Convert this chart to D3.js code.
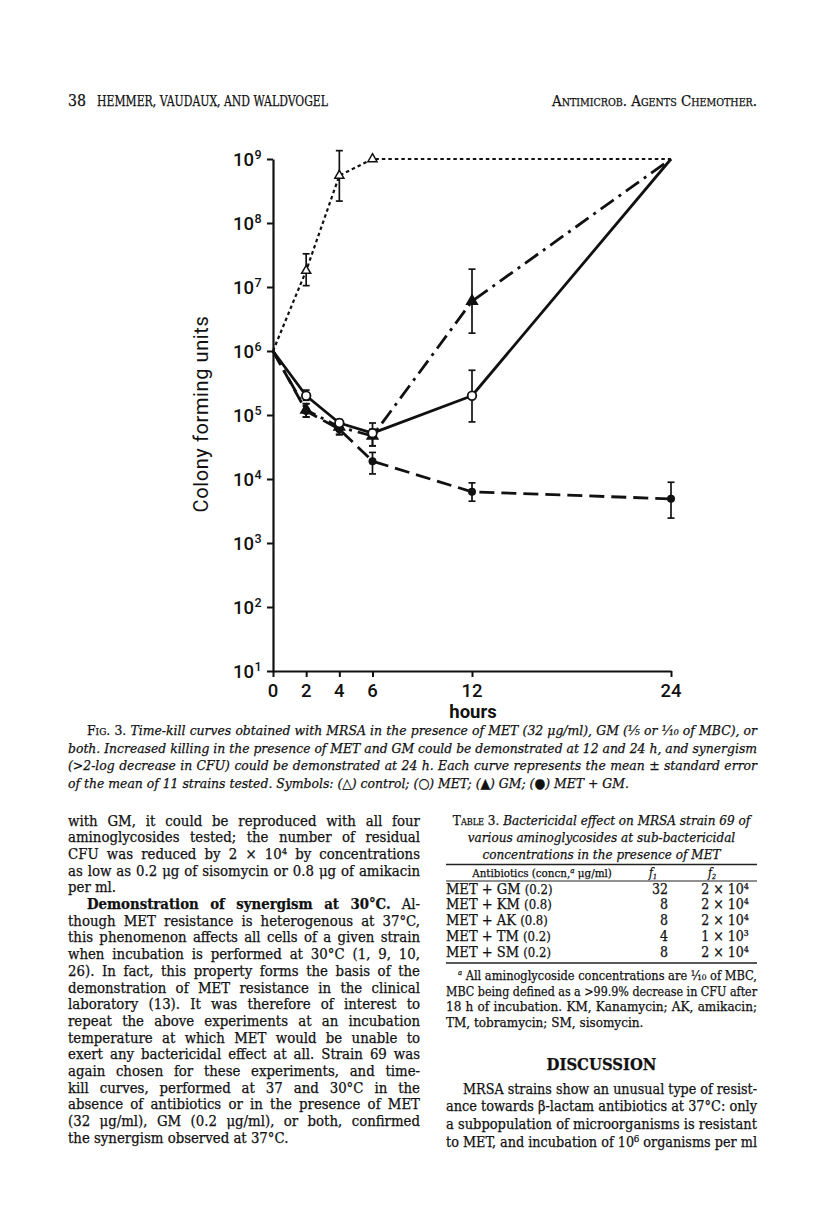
<!DOCTYPE html>
<html>
<head>
<meta charset="utf-8">
<script src="https://cdn.jsdelivr.net/npm/d3@7"></script>
<style>
  html, body { margin: 0; padding: 0; background: #fff; }
  svg { display: block; }
  .serif { font-family: "DejaVu Serif Condensed", "DejaVu Serif", serif; fill: #111; stroke: #111; stroke-width: 0.25; }
  .sans { font-family: Roboto, "DejaVu Sans", sans-serif; fill: #111; }
</style>
</head>
<body>
<script>
// ---- chart data ----
const hours = [0, 2, 4, 6, 12, 24];
const xTicks = [0, 2, 4, 6, 12, 24];
const yTicks = [1, 2, 3, 4, 5, 6, 7, 8, 9];   // exponents of 10

const control = [1e6, 1.8e7, 5.5e8, 1e9, 1e9, 1e9];
const controlLo = [null, 1.05e7, 2.2e8, null, null, null];
const controlHi = [null, 3.3e7, 1.35e9, null, null, null];

const met = [1e6, 2e5, 7.5e4, 5.2e4, 2e5, 1e9];
const metLo = [null, 1.7e5, 6e4, 3.3e4, 7.8e4, null];
const metHi = [null, 2.45e5, 8.5e4, 7.5e4, 5e5, null];

const gm = [1e6, 1.2e5, 6.5e4, 4.7e4, 6e6, 1e9];
const gmLo = [null, 9.3e4, 5e4, 3.3e4, 1.9e6, null];
const gmHi = [null, 1.5e5, 8e4, 6e4, 1.9e7, null];

const metGm = [1e6, 1.15e5, 6e4, 1.9e4, 6.3e3, 4.9e3];
const metGmLo = [null, 9.3e4, 4.9e4, 1.2e4, 4.5e3, 2.45e3];
const metGmHi = [null, 1.5e5, 7e4, 2.6e4, 8.7e3, 8.9e3];

// ---- table data ----
const tableRows = ['MET + GM', 'MET + KM', 'MET + AK', 'MET + TM', 'MET + SM'];
const tableConc = ['(0.2)', '(0.8)', '(0.8)', '(0.2)', '(0.2)'];
const tableF1 = ['32', '8', '8', '4', '8'];
const tableF2 = ['2 × 10⁴', '2 × 10⁴', '2 × 10⁴', '1 × 10³', '2 × 10⁴'];

const W = 816, H = 1221;
const svg = d3.create('svg').attr('width', W).attr('height', H);
svg.append('rect').attr('width', W).attr('height', H).attr('fill', '#fff');
document.body.appendChild(svg.node());

// ---- scales / axes ----
const x = d3.scaleLinear().domain([0, 24]).range([273, 671]);
const y = d3.scaleLog().domain([10, 1e9]).range([671, 159]);

const yAxis = svg.append('g')
    .attr('transform', 'translate(273,0)')
    .call(d3.axisLeft(y).tickValues(yTicks.map(e => Math.pow(10, e))).tickSize(6).tickSizeOuter(0).tickFormat(''));
const xAxis = svg.append('g')
    .attr('transform', 'translate(0,671)')
    .call(d3.axisBottom(x).tickValues(xTicks).tickSize(6).tickSizeOuter(0).tickFormat(''));
[yAxis, xAxis].forEach(g => {
    g.select('.domain').attr('stroke', '#111').attr('stroke-width', 2.2);
    g.selectAll('.tick line').attr('stroke', '#111').attr('stroke-width', 2);
});

const yLab = svg.append('g').attr('class', 'sans');
yTicks.forEach(e => {
    yLab.append('text')
        .attr('x', 254).attr('y', y(Math.pow(10, e)) + 6.5)
        .attr('text-anchor', 'end')
        .attr('font-size', 18.5).attr('font-weight', 500)
        .text('10');
    yLab.append('text')
        .attr('x', 254.5).attr('y', y(Math.pow(10, e)) - 0.5)
        .attr('font-size', 12.5).attr('font-weight', 500)
        .text(e);
});
svg.append('g').attr('class', 'sans')
    .selectAll('text').data(xTicks).join('text')
    .attr('x', d => x(d)).attr('y', 697)
    .attr('text-anchor', 'middle')
    .attr('font-size', 18.5).attr('font-weight', 500)
    .text(d => d);

svg.append('text').attr('class', 'sans')
    .attr('x', 473).attr('y', 718)
    .attr('text-anchor', 'middle')
    .attr('font-size', 18.5).attr('font-weight', 700)
    .text('hours');
svg.append('text').attr('class', 'sans')
    .attr('transform', 'translate(208,414) rotate(-90)')
    .attr('text-anchor', 'middle')
    .attr('font-size', 20).attr('font-weight', 400)
    .attr('letter-spacing', 0.6)
    .text('Colony forming units');

// ---- curves ----
const line = d3.line().x(d => x(d[0])).y(d => y(d[1]));
const series = [
    { v: metGm, lo: metGmLo, hi: metGmHi, dash: '15,7', w: 2.8, marker: 'dot', at: [1, 2, 3, 4, 5] },
    { v: gm, lo: gmLo, hi: gmHi, dash: '16,6,3,6', w: 2.8, marker: 'tri', at: [1, 2, 3, 4] },
    { v: met, lo: metLo, hi: metHi, dash: null, w: 2.8, marker: 'circle', at: [1, 2, 3, 4] },
    { v: control, lo: controlLo, hi: controlHi, dash: '3.5,3', w: 2.2, marker: 'otri', at: [1, 2, 3] }
];
const plot = svg.append('g');
series.forEach(s => {
    plot.append('path')
        .datum(hours.map((h, i) => [h, s.v[i]]))
        .attr('d', line)
        .attr('fill', 'none').attr('stroke', '#111')
        .attr('stroke-width', s.w)
        .attr('stroke-dasharray', s.dash)
        .attr('stroke-linejoin', 'round');
    hours.forEach((h, i) => {
        if (s.lo[i] == null) return;
        const g = plot.append('g').attr('stroke', '#111').attr('stroke-width', 1.7);
        g.append('line').attr('x1', x(h)).attr('x2', x(h)).attr('y1', y(s.lo[i])).attr('y2', y(s.hi[i]));
        g.append('line').attr('x1', x(h) - 3.5).attr('x2', x(h) + 3.5).attr('y1', y(s.lo[i])).attr('y2', y(s.lo[i]));
        g.append('line').attr('x1', x(h) - 3.5).attr('x2', x(h) + 3.5).attr('y1', y(s.hi[i])).attr('y2', y(s.hi[i]));
    });
    s.at.forEach(i => {
        const cx = x(hours[i]), cy = y(s.v[i]);
        if (s.marker === 'circle') {
            plot.append('circle').attr('cx', cx).attr('cy', cy).attr('r', 4.3)
                .attr('fill', '#fff').attr('stroke', '#111').attr('stroke-width', 1.8);
        } else if (s.marker === 'dot') {
            plot.append('circle').attr('cx', cx).attr('cy', cy).attr('r', 4)
                .attr('fill', '#111');
        } else {
            plot.append('path')
                .attr('transform', `translate(${cx},${cy})`)
                .attr('d', d3.symbol(d3.symbolTriangle, s.marker === 'tri' ? 50 : 36)())
                .attr('fill', s.marker === 'tri' ? '#111' : '#fff')
                .attr('stroke', '#111').attr('stroke-width', 1.5);
        }
    });
});

// ---- text helpers ----
// segs: array of [text, attrs]; justified to [x0, x1] when opts.justify
function textLine(g, x0, x1, yy, segs, size, opts = {}) {
    const t = g.append('text').attr('class', 'serif')
        .attr('x', x0).attr('y', yy).attr('font-size', size)
        .attr('xml:space', 'preserve');
    if (opts.anchor) t.attr('text-anchor', opts.anchor);
    if (opts.italic) t.attr('font-style', 'italic');
    segs.forEach(([str, a]) => {
        const sp = t.append('tspan').text(str);
        if (a) Object.entries(a).forEach(([k, v]) => sp.attr(k, v));
    });
    const w = t.node().getComputedTextLength();
    if (opts.justify) {
        const target = x1 - x0;
        const nsp = segs.map(s => s[0]).join('').split(' ').length - 1;
        if (w > target || nsp === 0) {
            t.attr('textLength', target).attr('lengthAdjust', 'spacingAndGlyphs');
        } else {
            t.style('word-spacing', ((target - w) / nsp) + 'px');
        }
    } else if (opts.fit && w > opts.fit) {
        t.attr('textLength', opts.fit).attr('lengthAdjust', 'spacingAndGlyphs');
    } else if (opts.fitExact) {
        t.attr('textLength', opts.fitExact).attr('lengthAdjust', 'spacingAndGlyphs');
    }
    return t;
}

const txt = svg.append('g');

// header
textLine(txt, 68, 0, 106, [['38']], 16, { fitExact: 18 });
textLine(txt, 97, 0, 106, [['HEMMER, VAUDAUX, AND WALDVOGEL']], 15.5, { fitExact: 231 });
textLine(txt, 757, 0, 106, [['Antimicrob. Agents Chemother.', { 'font-variant': 'small-caps' }]], 15.5, { anchor: 'end', fitExact: 205 });

// caption
const cap = [
    [[['Fig. 3. ', { 'font-style': 'normal', 'font-variant': 'small-caps' }], ['Time-kill curves obtained with MRSA in the presence of MET (32 μg/ml), GM (⅕ or ⅒ of MBC), or']], 87, true],
    [[['both. Increased killing in the presence of MET and GM could be demonstrated at 12 and 24 h, and synergism']], 68, true],
    [[['(>2-log decrease in CFU) could be demonstrated at 24 h. Each curve represents the mean ± standard error']], 68, true],
    [[['of the mean of 11 strains tested. Symbols: (△) control; (○) MET; (▲) GM; (●) MET + GM.']], 68, false]
];
cap.forEach(([segs, x0, j], i) => textLine(txt, x0, 757, 735 + i * 17.6, segs, 13.8, { italic: true, justify: j }));

// left column
const leftLines = [
    'with GM, it could be reproduced with all four',
    'aminoglycosides tested; the number of residual',
    'CFU was reduced by 2 × 10⁴ by concentrations',
    'as low as 0.2 μg of sisomycin or 0.8 μg of amikacin',
    'per ml.',
    null,
    'though MET resistance is heterogenous at 37°C,',
    'this phenomenon affects all cells of a given strain',
    'when incubation is performed at 30°C (1, 9, 10,',
    '26). In fact, this property forms the basis of the',
    'demonstration of MET resistance in the clinical',
    'laboratory (13). It was therefore of interest to',
    'repeat the above experiments at an incubation',
    'temperature at which MET would be unable to',
    'exert any bactericidal effect at all. Strain 69 was',
    'again chosen for these experiments, and time-',
    'kill curves, performed at 37 and 30°C in the',
    'absence of antibiotics or in the presence of MET',
    '(32 μg/ml), GM (0.2 μg/ml), or both, confirmed',
    'the synergism observed at 37°C.'
];
leftLines.forEach((l, i) => {
    const yy = 825.5 + i * 16.7;
    if (l === null) {
        textLine(txt, 87, 420, yy, [['Demonstration of synergism at 30°C.', { 'font-weight': 'bold' }], [' Al-']], 14.8, { justify: true });
    } else {
        textLine(txt, 68, 420, yy, [[l]], 14.8, { justify: !(i === 4 || i === 19) });
    }
});

// table 3
const R0 = 446, R1 = 757, RC = (R0 + R1) / 2;
textLine(txt, RC, 0, 825, [['Table 3. ', { 'font-variant': 'small-caps', 'font-style': 'normal' }], ['Bactericidal effect on MRSA strain 69 of']], 13.4, { anchor: 'middle', italic: true, fit: 302 });
textLine(txt, RC, 0, 842, [['various aminoglycosides at sub-bactericidal']], 13.4, { anchor: 'middle', italic: true });
textLine(txt, RC, 0, 859, [['concentrations in the presence of MET']], 13.4, { anchor: 'middle', italic: true });

const rules = [864.5, 881, 963];
txt.selectAll('line.rule').data(rules).join('line')
    .attr('x1', R0).attr('x2', R1).attr('y1', d => d).attr('y2', d => d)
    .attr('stroke', '#222').attr('stroke-width', (d, i) => i === 1 ? 1 : 1.6);
textLine(txt, 542, 0, 877, [['Antibiotics (concn,'], ['a', { 'font-size': 8, dy: -4, 'font-style': 'italic' }], [' μg/ml)', { dy: 4 }]], 11.5, { anchor: 'middle' });
textLine(txt, 653, 0, 877, [['f'], ['1', { 'font-size': 7, dy: 2 }]], 12, { anchor: 'middle', italic: true });
textLine(txt, 712, 0, 877, [['f'], ['2', { 'font-size': 7, dy: 2 }]], 12, { anchor: 'middle', italic: true });
tableRows.forEach((r, i) => {
    const yy = 893.5 + i * 15.8;
    textLine(txt, R0, 0, yy, [[r + ' ', { 'font-size': 14.5 }], [tableConc[i], { 'font-size': 13 }]], 14.5);
    textLine(txt, 668, 0, yy, [[tableF1[i]]], 14, { anchor: 'end' });
    textLine(txt, 725, 0, yy, [[tableF2[i]]], 14, { anchor: 'middle' });
});

const foot = [
    [[['a', { 'font-size': 8, dy: -5, 'font-style': 'italic' }], [' All aminoglycoside concentrations are ⅒ of MBC,', { dy: 5 }]], 458, true],
    [[['MBC being defined as a >99.9% decrease in CFU after']], R0, true],
    [[['18 h of incubation. KM, Kanamycin; AK, amikacin;']], R0, true],
    [[['TM, tobramycin; SM, sisomycin.']], R0, false]
];
foot.forEach(([segs, x0, j], i) => textLine(txt, x0, R1, 980 + i * 15.5, segs, 13.4, { justify: j }));

textLine(txt, RC, 0, 1070, [['DISCUSSION', { 'font-weight': 'bold' }]], 16.5, { anchor: 'middle' });
const disc = [
    ['MRSA strains show an unusual type of resist-', 463, true],
    ['ance towards β-lactam antibiotics at 37°C: only', R0, true],
    ['a subpopulation of microorganisms is resistant', R0, true],
    ['to MET, and incubation of 10⁶ organisms per ml', R0, true]
];
disc.forEach(([l, x0, j], i) => textLine(txt, x0, R1, 1093.5 + i * 17.7, [[l]], 15, { justify: j }));
</script>
</body>
</html>
